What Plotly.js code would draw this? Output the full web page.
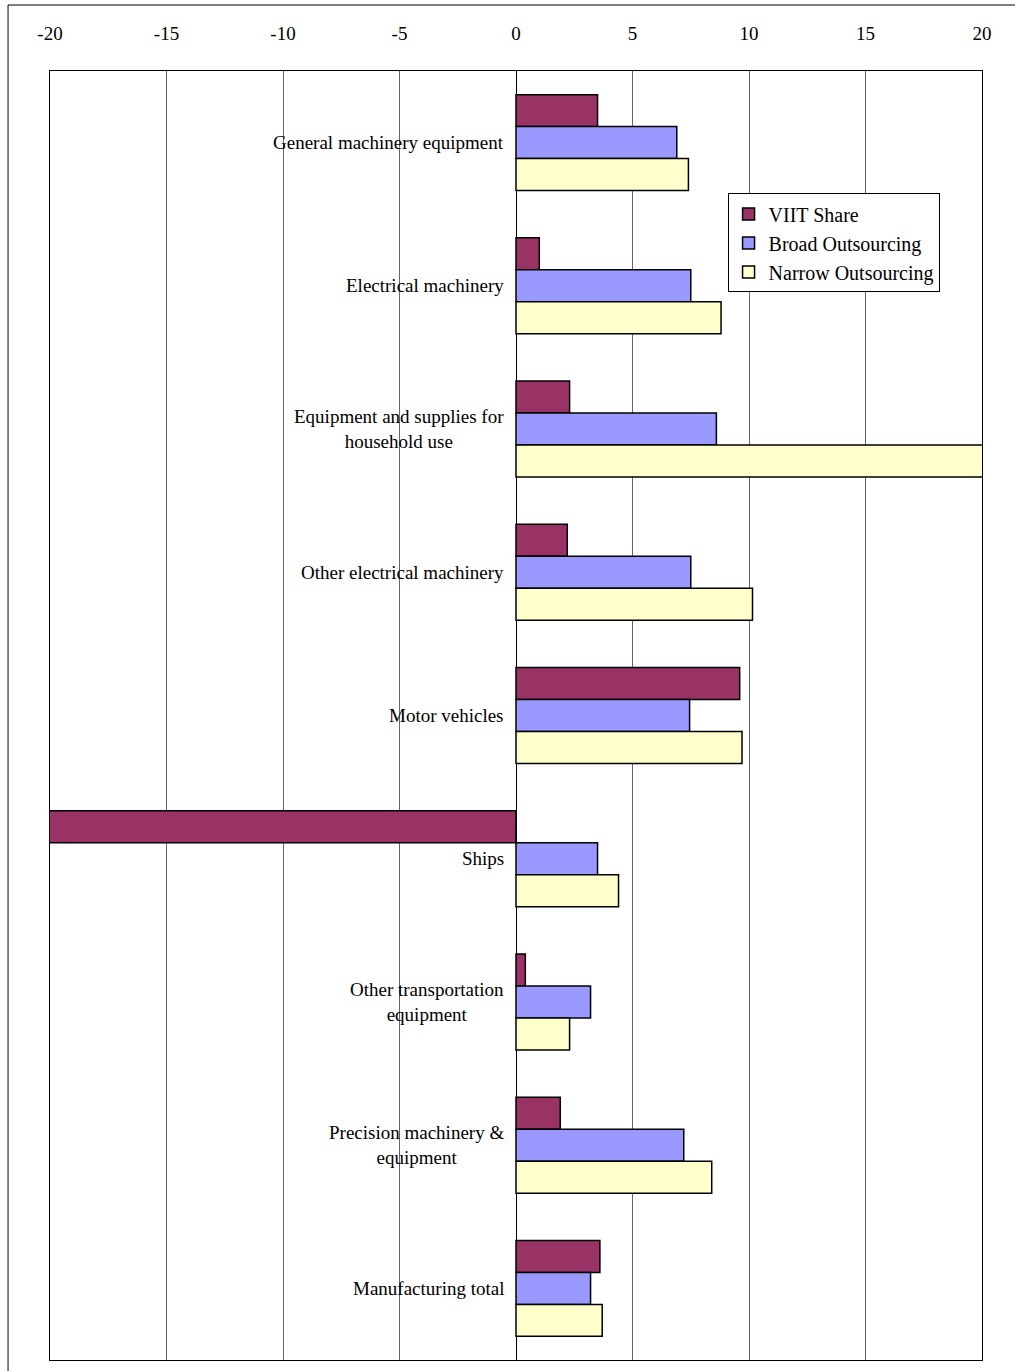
<!DOCTYPE html>
<html><head><meta charset="utf-8">
<script src="https://cdn.plot.ly/plotly-3.0.1.min.js"></script>
<style>body{margin:0;background:#fff}</style>
</head><body>
<div id="chart" style="width:1015px;height:1371px"></div>
<script>
const categories = ["General machinery equipment", "Electrical machinery", "Equipment and supplies for<br>household use",
  "Other electrical machinery", "Motor vehicles", "Ships", "Other transportation<br>equipment",
  "Precision machinery &<br>equipment", "Manufacturing total"];
const viitShare = [3.5, 1.0, 2.3, 2.2, 9.6, -20.2, 0.4, 1.9, 3.6];
const broadOutsourcing = [6.9, 7.5, 8.6, 7.5, 7.45, 3.5, 3.2, 7.2, 3.2];
const narrowOutsourcing = [7.4, 8.8, 20.1, 10.15, 9.7, 4.4, 2.3, 8.4, 3.7];
const tickValues = [-20, -15, -10, -5, 0, 5, 10, 15, 20];
const tickLabels = ["-20", "-15", "-10", "-5", "0", "5", "10", "15", "20"];

const font = {family: "Liberation Serif, Times New Roman, serif", color: "#000"};
const line = {color: "#000", width: 1.5};
const traces = [
  {name: "VIIT Share", x: viitShare, marker: {color: "#993366", line}},
  {name: "Broad Outsourcing", x: broadOutsourcing, marker: {color: "#9999ff", line}},
  {name: "Narrow Outsourcing", x: narrowOutsourcing, marker: {color: "#ffffcc", line}}
].map(t => Object.assign(t, {y: categories, type: "bar", orientation: "h"}));

const annotations = categories.map(c => ({
  x: 0, y: c, xref: "x", yref: "y", text: c, showarrow: false,
  xanchor: "right", yanchor: "middle", xshift: -10, align: "center",
  font: Object.assign({size: 19}, font)
}));

Plotly.newPlot("chart", traces, {
  width: 1015, height: 1371,
  margin: {l: 50, r: 33, t: 71, b: 11},
  paper_bgcolor: "#fff", plot_bgcolor: "#fff",
  font: font,
  barmode: "group", bargap: 0.33, bargroupgap: 0,
  xaxis: {range: [-20, 20], tickvals: tickValues, ticktext: tickLabels, side: "top",
    showgrid: true, gridcolor: "#000", gridwidth: 0.6,
    zeroline: true, zerolinecolor: "#000", zerolinewidth: 1, showline: true, mirror: true,
    linecolor: "#000", linewidth: 1, ticks: "", ticklabelstandoff: 22,
    tickfont: Object.assign({size: 19}, font), fixedrange: true},
  yaxis: {autorange: "reversed", showticklabels: false, showgrid: false, showline: true, mirror: true,
    linecolor: "#000", linewidth: 1, fixedrange: true},
  legend: {x: 0.727, y: 0.905, xanchor: "left", yanchor: "top", bgcolor: "#fff",
    bordercolor: "#000", borderwidth: 1, font: Object.assign({size: 20}, font), traceorder: "normal",
    itemwidth: 30},
  annotations: annotations,
  shapes: [{type: "rect", xref: "paper", yref: "paper", x0: -0.045, x1: 1.1, y0: -0.05, y1: 1.0512,
    line: {color: "#000", width: 1}, layer: "below"}]
}, {displayModeBar: false, staticPlot: true});
</script>
</body></html>
